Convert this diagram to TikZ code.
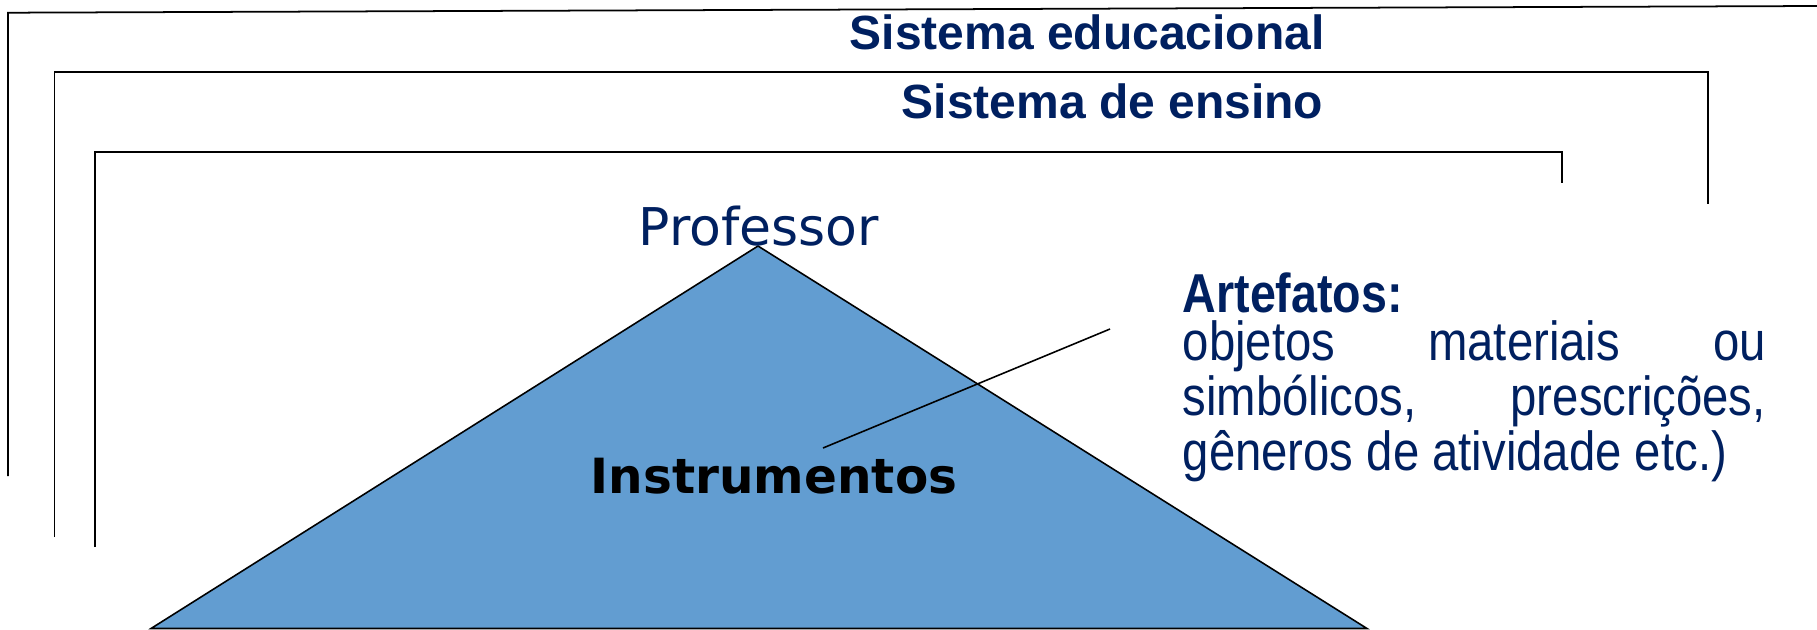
\documentclass[tikz,border=0pt]{standalone}
\usepackage{fontspec}
\setmainfont{Liberation Sans}
\newfontfamily\verdanafont{DejaVu Sans}
\newfontfamily\narrowfont[FakeStretch=0.86]{Liberation Sans}
\newfontfamily\narrowboldfont[FakeStretch=0.85]{Liberation Sans}
\definecolor{navytext}{HTML}{002060}
\definecolor{triblue}{HTML}{629DD1}
\tikzset{
	frameline/.style={draw=black,line width=0.5pt},
	systemlabel/.style={anchor=base west,inner sep=0pt,text=navytext,font=\bfseries\fontsize{13.66}{16}\selectfont},
}
\begin{document}
\begin{tikzpicture}
	\useasboundingbox (0,0) rectangle (18.17,-6.29);
	% the nested frames
	\draw[frameline] (0.08,-4.76) -- (0.08,-0.127) -- (18.17,-0.06);
	\draw[frameline] (0.545,-5.37) -- (0.545,-0.72) -- (17.08,-0.72) -- (17.08,-2.04);
	\draw[frameline] (0.95,-5.47) -- (0.95,-1.52) -- (15.62,-1.52) -- (15.62,-1.83);
	%% the labels
	\node[systemlabel] (educacional) at (8.49,-0.49) {Sistema educacional};
	\node[systemlabel] (ensino) at (9.01,-1.18) {Sistema de ensino};
	% the triangle
	\coordinate (apex) at (7.58,-2.46);
	\coordinate (baseleft) at (1.51,-6.285);
	\coordinate (baseright) at (13.67,-6.285);
	\filldraw[fill=triblue,draw=black,line width=0.45pt] (apex) -- (baseleft) -- (baseright) -- cycle;
	\node[anchor=base,inner sep=0pt,text=navytext,font=\verdanafont\fontsize{14.8}{18}\selectfont] (professor) at (7.59,-2.45) {Professor};
	\node[anchor=base,inner sep=0pt,font=\verdanafont\bfseries\fontsize{13.8}{16}\selectfont] (instrumentos) at (7.74,-4.93) {Instrumentos};
	%% the artefacts
	\node[anchor=base west,inner sep=0pt,text=navytext,font=\narrowboldfont\bfseries\fontsize{15.6}{18}\selectfont] (artefatos) at (11.82,-3.12) {Artefatos:};
	\node[anchor=base west,inner sep=0pt,text=navytext,text width=5.83cm,align=justify,font=\narrowfont\fontsize{15.65}{12.8}\selectfont] (artefatosdesc) at (11.82,-3.60) {objetos materiais ou\linebreak simbólicos, prescrições,\linebreak gêneros de atividade etc.)};
	\coordinate (leadstart) at (8.23,-4.48);
	\coordinate (leadend) at (11.10,-3.29);
	\draw[line width=0.45pt] (leadstart) -- (leadend);
\end{tikzpicture}
\end{document}
